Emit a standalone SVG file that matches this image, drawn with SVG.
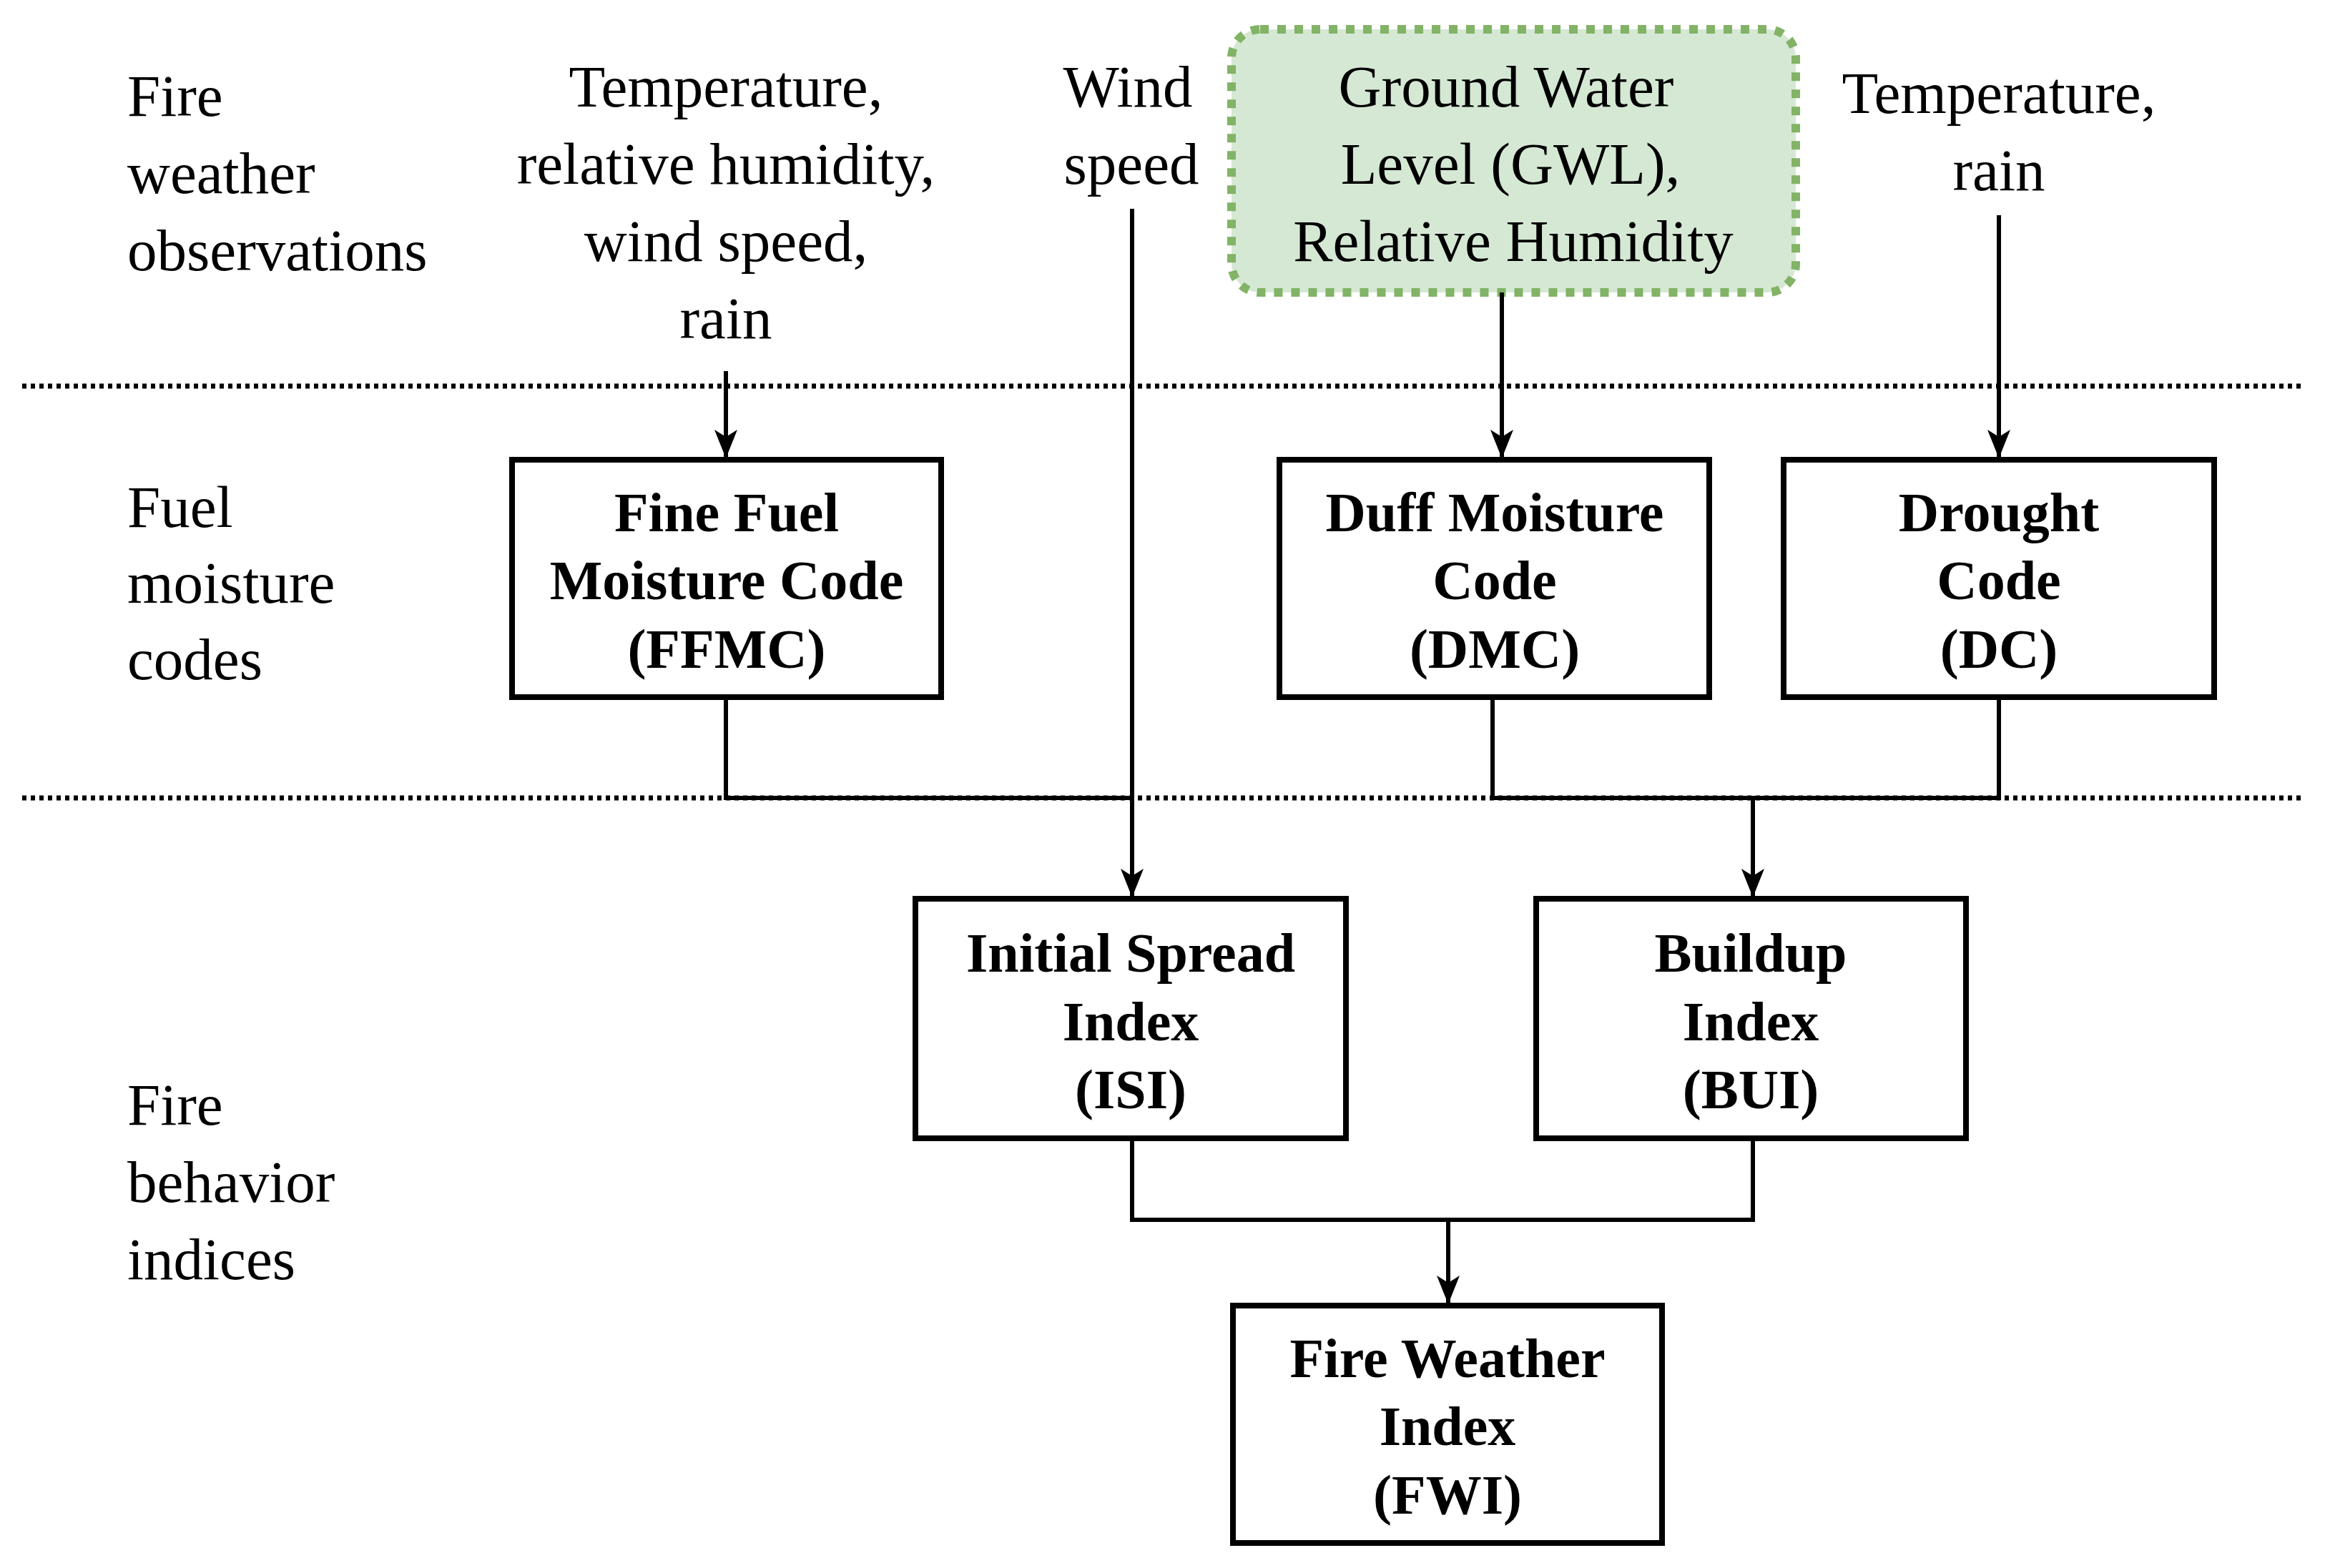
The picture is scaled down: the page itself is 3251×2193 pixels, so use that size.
<svg xmlns="http://www.w3.org/2000/svg" width="3251" height="2193" viewBox="0 0 3251 2193">
<style>
text{font-family:"Liberation Serif","Times New Roman",serif;fill:#000}
.l{font-size:83px}
.c{font-size:83px;text-anchor:middle}
.b{font-size:78px;font-weight:bold;text-anchor:middle}
.box{fill:#fff;stroke:#000;stroke-width:8}
.ln{fill:none;stroke:#000;stroke-width:6}
.sep{stroke:#000;stroke-width:7;stroke-dasharray:6 6}
</style>
<defs>
<marker id="a" viewBox="0 0 10 10" refX="10" refY="5" markerWidth="9" markerHeight="9" markerUnits="userSpaceOnUse" orient="auto" style="overflow:visible">
<path d="M0,0 L10,5 L0,10 L3,5 Z" fill="#000" transform="scale(1)"/>
</marker>
<marker id="arr" viewBox="0 0 40 32" refX="40" refY="16" markerWidth="40" markerHeight="32" markerUnits="userSpaceOnUse" orient="auto">
<path d="M0,0 L40,16 L0,32 L10,16 Z" fill="#000"/>
</marker>
</defs>
<g id="separators">
<line class="sep" x1="31" y1="540" x2="3220" y2="540"/>
<line class="sep" x1="31" y1="1116" x2="3220" y2="1116"/>
</g>
<g id="labels">
<text class="l" x="178" y="162">Fire</text>
<text class="l" x="178" y="270">weather</text>
<text class="l" x="178" y="378">observations</text>
<text class="l" x="178" y="737">Fuel</text>
<text class="l" x="178" y="843">moisture</text>
<text class="l" x="178" y="950">codes</text>
<text class="l" x="178" y="1573">Fire</text>
<text class="l" x="178" y="1681">behavior</text>
<text class="l" x="178" y="1789">indices</text>
<text class="c" x="1015" y="149">Temperature,</text>
<text class="c" x="1015" y="257">relative humidity,</text>
<text class="c" x="1015" y="365">wind speed,</text>
<text class="c" x="1015" y="473">rain</text>
<text class="c" x="1577" y="149">Wind</text>
<text class="c" x="1582" y="257">speed</text>
<text class="c" x="2795" y="158">Temperature,</text>
<text class="c" x="2795" y="266">rain</text>
</g>
<g id="gwl">
<rect x="1722" y="41" width="789" height="368" rx="40" fill="#d5e8d4" stroke="#82b366" stroke-width="12" stroke-dasharray="12 12"/>
<text class="c" x="2106" y="149">Ground Water</text>
<text class="c" x="2112" y="257">Level (GWL),</text>
<text class="c" x="2116" y="365">Relative Humidity</text>
</g>
<g id="connectors">
<line class="ln" x1="1015" y1="519" x2="1015" y2="641" marker-end="url(#arr)"/>
<line class="ln" x1="2100" y1="409" x2="2100" y2="641" marker-end="url(#arr)"/>
<line class="ln" x1="2795" y1="301" x2="2795" y2="641" marker-end="url(#arr)"/>
<line class="ln" x1="1583" y1="292" x2="1583" y2="1255" marker-end="url(#arr)"/>
<polyline class="ln" points="1015,975 1015,1116 1583,1116"/>
<polyline class="ln" points="2087,975 2087,1116 2795,1116 2795,975"/>
<line class="ln" x1="2451" y1="1116" x2="2451" y2="1255" marker-end="url(#arr)"/>
<polyline class="ln" points="1583,1592 1583,1706 2451,1706 2451,1592"/>
<line class="ln" x1="2025" y1="1706" x2="2025" y2="1824" marker-end="url(#arr)"/>
</g>
<g id="ffmc"><rect class="box" x="716" y="643" width="600" height="332"/>
<text class="b" x="1016" y="743">Fine Fuel</text><text class="b" x="1016" y="838">Moisture Code</text><text class="b" x="1016" y="934">(FFMC)</text></g>
<g id="dmc"><rect class="box" x="1789" y="643" width="601" height="332"/>
<text class="b" x="2090" y="743">Duff Moisture</text><text class="b" x="2090" y="838">Code</text><text class="b" x="2090" y="934">(DMC)</text></g>
<g id="dc"><rect class="box" x="2494" y="643" width="602" height="332"/>
<text class="b" x="2795" y="743">Drought</text><text class="b" x="2795" y="838">Code</text><text class="b" x="2795" y="934">(DC)</text></g>
<g id="isi"><rect class="box" x="1280" y="1257" width="602" height="335"/>
<text class="b" x="1581" y="1359">Initial Spread</text><text class="b" x="1581" y="1455">Index</text><text class="b" x="1581" y="1550">(ISI)</text></g>
<g id="bui"><rect class="box" x="2148" y="1257" width="601" height="335"/>
<text class="b" x="2448" y="1359">Buildup</text><text class="b" x="2448" y="1455">Index</text><text class="b" x="2448" y="1550">(BUI)</text></g>
<g id="fwi"><rect class="box" x="1724" y="1826" width="600" height="332"/>
<text class="b" x="2024" y="1926">Fire Weather</text><text class="b" x="2024" y="2021">Index</text><text class="b" x="2024" y="2117">(FWI)</text></g>
</svg>
